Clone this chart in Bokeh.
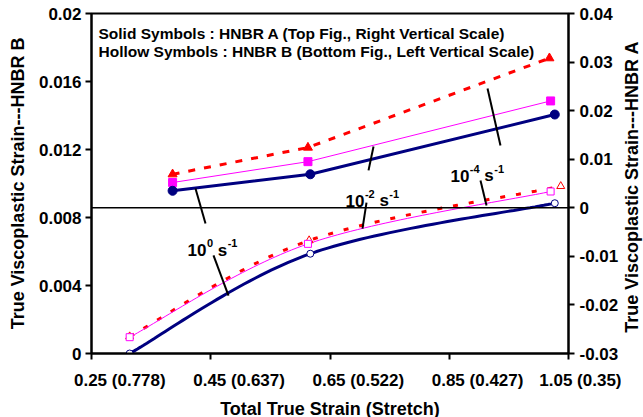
import numpy as np
from bokeh.plotting import figure
from bokeh.layouts import row
from bokeh.models import Range1d, LinearAxis, FixedTicker, Span, Label
from bokeh.embed import file_html
from bokeh.resources import INLINE

FONT = "Liberation Sans"

# HNBR B (hollow symbols, left scale): total true strain vs. viscoplastic strain
b_strain_r0 = [0.314, 0.617, 1.027]
b_vp_r0 = [0.0, 0.00587, 0.00884]
b_strain_r2 = [0.314, 0.613, 1.020]
b_vp_r2 = [0.00096, 0.00645, 0.00953]
b_strain_r4 = [0.314, 0.615, 1.037]
b_vp_r4 = [0.00100, 0.00665, 0.00984]

# HNBR A (solid symbols, right scale)
a_strain_r0 = [0.386, 0.617, 1.027]
a_vp_r0 = [0.0035, 0.0069, 0.0192]
a_strain_r2 = [0.386, 0.613, 1.020]
a_vp_r2 = [0.0052, 0.0095, 0.0220]
a_strain_r4 = [0.386, 0.613, 1.018]
a_vp_r4 = [0.0069, 0.0124, 0.0308]

x_ticks = [0.25, 0.45, 0.65, 0.85, 1.05]
x_tick_labels = ["0.25", "0.45", "0.65", "0.85", "1.05"]
stretch_labels = ["(0.778)", "(0.637)", "(0.522)", "(0.427)", "(0.35)"]
left_ticks = [0.0, 0.004, 0.008, 0.012, 0.016, 0.02]
left_tick_labels = ["0", "0.004", "0.008", "0.012", "0.016", "0.02"]
right_ticks = [-0.03, -0.02, -0.01, 0.0, 0.01, 0.02, 0.03, 0.04]
right_tick_labels = ["-0.03", "-0.02", "-0.01", "0", "0.01", "0.02", "0.03", "0.04"]

legend_lines = ["Solid Symbols : HNBR A (Top Fig., Right Vertical Scale)",
                "Hollow Symbols : HNBR B (Bottom Fig., Left Vertical Scale)"]
right_title = "True Viscoplastic  Strain---HNBR A"

# strain-rate callouts: exponent, text anchor (left, baseline) and leader lines
rate_exponents = ["0", "-2", "-4"]
rate_anchor_x = [0.411, 0.676, 0.852]
rate_anchor_y = [0.00606, 0.0090, 0.01047]
leader_x0 = [0.4244, 0.4546, 0.7230, 0.7112, 0.9142, 0.9024]
leader_y0 = [0.00971, 0.00577, 0.01218, 0.00888, 0.01559, 0.01018]
leader_x1 = [0.4412, 0.4798, 0.7146, 0.7045, 0.9359, 0.9125]
leader_y1 = [0.00765, 0.00341, 0.01077, 0.00735, 0.01224, 0.00871]

NAVY = "#000080"
MAGENTA = "#FF00FF"
RED = "#FF0000"
NBSP = "\u00a0"

# Arial/Liberation Sans Bold advance widths (per 1000 em)
CW = {'0': 556, '1': 556, '2': 556, '3': 556, '4': 556, '5': 556, '6': 556,
      '7': 556, '8': 556, '9': 556, '.': 278, '(': 333, ')': 333, '-': 333,
      's': 556, ' ': 278}


def tw(s, size):
    return sum(CW[c] for c in s) * size / 1000.0


def smooth(xs, ys, n=40):
    """Bezier smoothing through the points (Excel-style smoothed line)."""
    P = np.column_stack([xs, ys]).astype(float)
    m = len(P)
    out = [P[0]]
    t = np.linspace(0, 1, n)[1:, None]
    for i in range(m - 1):
        pp = P[max(i - 1, 0)]
        p0, p1 = P[i], P[i + 1]
        pn = P[min(i + 2, m - 1)]
        c1 = p0 + (p1 - pp) / 6.0
        c2 = p1 - (pn - p0) / 6.0
        seg = (1 - t) ** 3 * p0 + 3 * (1 - t) ** 2 * t * c1 + 3 * (1 - t) * t ** 2 * c2 + t ** 3 * p1
        out.extend(seg)
    out = np.array(out)
    return out[:, 0], out[:, 1]


p = figure(frame_width=477, frame_height=340,
           x_range=Range1d(0.25, 1.05), y_range=Range1d(0, 0.02),
           output_backend="svg", toolbar_location=None,
           min_border_left=91, min_border_right=50, min_border_top=13, min_border_bottom=64)
p.extra_y_ranges = {"A": Range1d(-0.03, 0.04)}
p.xgrid.visible = False
p.ygrid.visible = False
p.outline_line_color = "black"
p.outline_line_width = 2
p.background_fill_color = "white"
p.border_fill_color = "white"

right_axis = LinearAxis(y_range_name="A")
p.add_layout(right_axis, "right")


def style_axis(ax, size="17px"):
    ax.axis_line_width = 2
    ax.axis_line_color = "black"
    ax.major_tick_line_width = 2
    ax.major_tick_out = 6
    ax.major_tick_in = 0
    ax.minor_tick_line_color = None
    ax.major_label_text_font = FONT
    ax.major_label_text_font_style = "bold"
    ax.major_label_text_font_size = size
    ax.major_label_text_color = "black"
    ax.axis_label_text_font = FONT
    ax.axis_label_text_font_style = "bold"
    ax.axis_label_text_font_size = "18px"
    ax.axis_label_text_color = "black"


xa = p.xaxis[0]
ya = p.yaxis[0]
for ax in (xa, ya, right_axis):
    style_axis(ax)

# strain tick labels: number centred on the tick, stretch value to its right
x_label_text = []
for num, st in zip(x_tick_labels, stretch_labels):
    pad = NBSP * int(round((CW[' '] + sum(CW[c] for c in st)) / CW[' ']))
    x_label_text.append(pad + num + " " + st)
xa.ticker = FixedTicker(ticks=x_ticks)
xa.major_label_overrides = dict(zip(x_ticks, x_label_text))
xa.major_label_standoff = 11
xa.axis_label = "Total True Strain (Stretch)"
xa.axis_label_standoff = 6

ya.ticker = FixedTicker(ticks=left_ticks)
ya.major_label_overrides = dict(zip(left_ticks, left_tick_labels))
ya.major_label_standoff = 4
ya.axis_label = "True Viscoplastic Strain---HNBR B"
ya.axis_label_standoff = 8

right_axis.ticker = FixedTicker(ticks=right_ticks)
right_axis.major_label_overrides = dict(zip(right_ticks, right_tick_labels))
right_axis.major_label_standoff = 5

# zero line of the right-hand scale
p.add_layout(Span(location=0, dimension="width", y_range_name="A",
                  line_color="black", line_width=1.5))

# HNBR B: smoothed curves, hollow markers
for xs, ys, color, width, dash in [
        (b_strain_r4, b_vp_r4, RED, 3, "5 11"),
        (b_strain_r2, b_vp_r2, MAGENTA, 1, "solid"),
        (b_strain_r0, b_vp_r0, NAVY, 3, "solid")]:
    sx, sy = smooth(xs, ys)
    p.line(sx, sy, line_color=color, line_width=width, line_dash=dash)
p.scatter(b_strain_r4, b_vp_r4, marker="triangle", size=8, line_color=RED, fill_color="white", line_width=1)
p.scatter(b_strain_r2, b_vp_r2, marker="square", size=7, line_color=MAGENTA, fill_color="white", line_width=1)
p.scatter(b_strain_r0, b_vp_r0, marker="circle", size=7, line_color=NAVY, fill_color="white", line_width=1)

# HNBR A: straight segments, solid markers
p.line(a_strain_r4, a_vp_r4, y_range_name="A", line_color=RED, line_width=3, line_dash="7 9")
p.line(a_strain_r2, a_vp_r2, y_range_name="A", line_color=MAGENTA, line_width=1)
p.line(a_strain_r0, a_vp_r0, y_range_name="A", line_color=NAVY, line_width=3)
p.scatter(a_strain_r4, a_vp_r4, y_range_name="A", marker="triangle", size=9, color=RED)
p.scatter(a_strain_r2, a_vp_r2, y_range_name="A", marker="square", size=8, color=MAGENTA)
p.scatter(a_strain_r0, a_vp_r0, y_range_name="A", marker="circle", size=9, color=NAVY)

# leader lines from the rate callouts to the curves
p.segment(leader_x0, leader_y0, leader_x1, leader_y1, line_color="black", line_width=2)

# rate callouts "10^n s^-1" built from base text and raised exponents
BASE, SUP, RISE = 17, 11, 7
for ex, ax0, ay0 in zip(rate_exponents, rate_anchor_x, rate_anchor_y):
    pieces = [("10", BASE, 0, 0.0), (ex, SUP, RISE, 0.5), ("s", BASE, 0, tw(" ", BASE)), ("-1", SUP, RISE, 0.5)]
    off = 0.0
    for txt, size, rise, gap in pieces:
        off += gap
        p.add_layout(Label(x=ax0, y=ay0, x_offset=off, y_offset=rise, text=txt,
                           text_font=FONT, text_font_style="bold", text_font_size=f"{size}px",
                           text_align="left", text_baseline="alphabetic", text_color="black"))
        off += tw(txt, size)

# symbol key in the upper left corner
for i, line in enumerate(legend_lines):
    p.add_layout(Label(x=7, y=340 - 33.3 + 13 - 17.2 * i, x_units="screen", y_units="screen",
                       text=line, text_font=FONT, text_font_style="bold", text_font_size="15.5px",
                       text_align="left", text_baseline="alphabetic", text_color="black"))

# narrow strip holding the right-hand scale title (reads bottom to top)
STRIP_W = 25
strip = figure(width=STRIP_W, height=417, x_range=Range1d(0, STRIP_W), y_range=Range1d(0, 417),
               output_backend="svg", toolbar_location=None,
               x_axis_type=None, y_axis_type=None,
               min_border_left=0, min_border_right=0, min_border_top=0, min_border_bottom=0)
strip.grid.visible = False
strip.outline_line_color = None
strip.background_fill_color = "white"
strip.border_fill_color = "white"
strip.add_layout(Label(x=10.5, y=205, text=right_title, angle=np.pi / 2,
                       text_font=FONT, text_font_style="bold", text_font_size="18px",
                       text_align="center", text_baseline="middle", text_color="black"))

layout = row(p, strip, spacing=0)
open("out.html", "w").write(file_html(layout, INLINE))
